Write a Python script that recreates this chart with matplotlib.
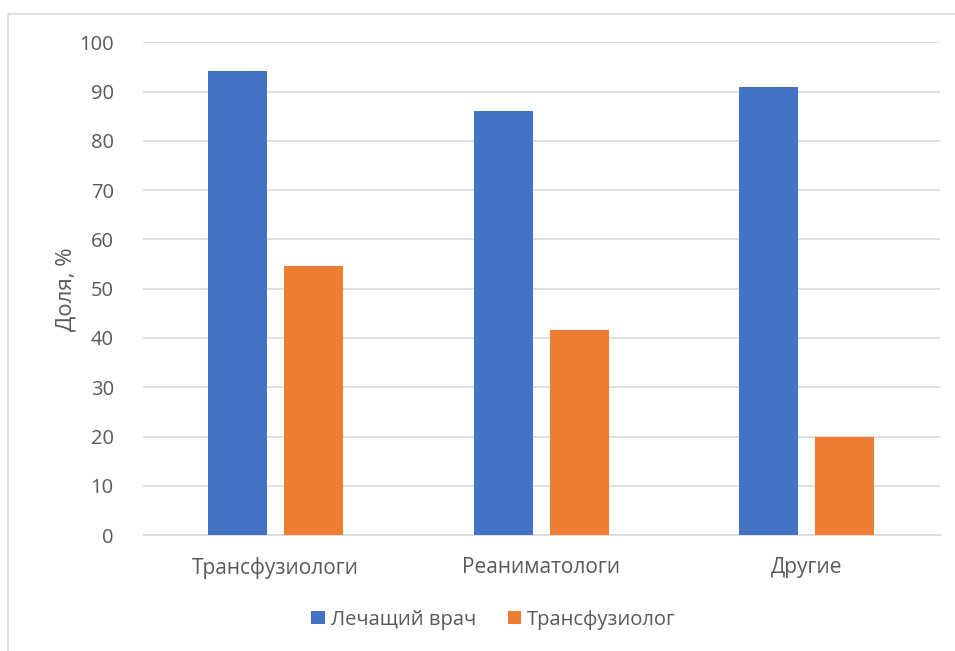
import matplotlib
matplotlib.use('Agg')
import matplotlib.pyplot as plt
import matplotlib.patches as mpatches
import numpy as np

plt.rcParams['font.family'] = ['Open Sans', 'DejaVu Sans']

categories = ['Трансфузиологи', 'Реаниматологи', 'Другие']
series_names = ['Лечащий врач', 'Трансфузиолог']
attending = [94.2, 86.1, 90.9]
transfusiologist = [54.6, 41.6, 20.0]
colors = ['#4472C4', '#ED7D31']
text_color = '#595959'

fig = plt.figure(figsize=(9.55, 6.51), dpi=100)
ax = fig.add_axes([0.1497, 0.178, 0.8343, 0.757])

# light frame around the whole chart area
fig.patches.append(mpatches.Rectangle((8 / 955, -0.1), 1.2, 1 - 13.5 / 651 + 0.1,
                                      transform=fig.transFigure, fill=False,
                                      edgecolor='#D9D9D9', linewidth=1.2))

x = np.arange(len(categories))
width = 0.222
offset = 0.143
b1 = ax.bar(x - offset, attending, width, color=colors[0], label=series_names[0], zorder=3)
b2 = ax.bar(x + offset, transfusiologist, width, color=colors[1], label=series_names[1], zorder=3)

ax.set_xlim(-0.5, 2.5)
ax.set_ylim(0, 100)
ax.set_yticks(np.arange(0, 100.1, 10))
ax.set_xticks(x)
ax.set_xticklabels(categories)
ax.grid(axis='y', color='#D9D9D9', linewidth=1.2, zorder=0)
for s in ['top', 'right', 'left']:
    ax.spines[s].set_visible(False)
ax.spines['bottom'].set_color('#D9D9D9')
ax.spines['bottom'].set_linewidth(1.2)
ax.tick_params(axis='y', length=0, labelsize=14.5, colors=text_color, pad=21)
ax.tick_params(axis='x', length=0, labelsize=15, colors=text_color, pad=16)
ax.set_ylabel('Доля, %', fontsize=16, color=text_color, labelpad=2)

fig.legend(handles=[b1, b2], labels=series_names, loc='center', bbox_to_anchor=(0.517, 0.048),
           ncol=2, frameon=False, fontsize=14.5, labelcolor=text_color,
           handlelength=0.65, handleheight=0.65, handletextpad=0.3, columnspacing=1.6)

fig.savefig('out.png', dpi=100)
